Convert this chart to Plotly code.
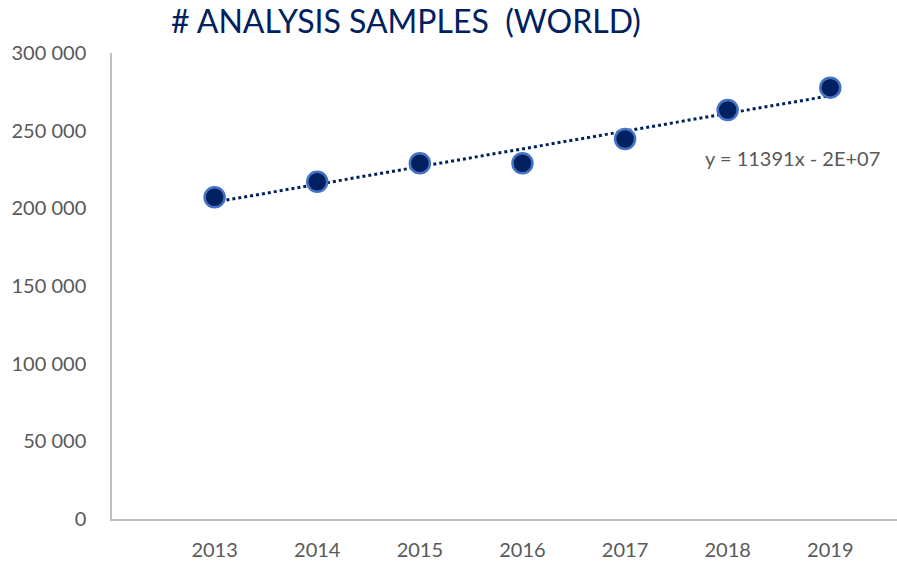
import numpy as np
import plotly.graph_objects as go

years = [2013, 2014, 2015, 2016, 2017, 2018, 2019]
samples = [207100, 217150, 229000, 229000, 244640, 263300, 277700]
y_ticks = [0, 50000, 100000, 150000, 200000, 250000, 300000]
y_tick_labels = ["0", "50 000", "100 000", "150 000", "200 000", "250 000", "300 000"]
title_text = "# ANALYSIS SAMPLES  (WORLD)"
equation_text = "y = 11391x - 2E+07"

x_idx = np.arange(1, len(years) + 1)
slope, intercept = np.polyfit(x_idx, samples, 1)
trend = slope * x_idx + intercept

navy = "#002060"
gray_text = "#595959"
axis_gray = "#BFBFBF"
font_family = "Lato, 'Open Sans', sans-serif"

fig = go.Figure()
fig.add_trace(go.Scatter(
    x=years, y=trend, mode="lines",
    line=dict(color=navy, width=3, dash="dot"),
    hoverinfo="skip", showlegend=False,
))
fig.add_trace(go.Scatter(
    x=years, y=samples, mode="markers",
    marker=dict(size=20, color=navy, line=dict(color="#4472C4", width=2.5)),
    showlegend=False,
))

fig.add_annotation(
    x=0.981, xref="paper", y=0.775, yref="paper", text=equation_text, showarrow=False,
    xanchor="right", yanchor="middle",
    font=dict(family=font_family, size=20, color=gray_text),
)

fig.update_layout(
    width=897, height=562,
    margin=dict(l=112, r=0, t=53, b=43),
    paper_bgcolor="white", plot_bgcolor="white",
    title=dict(
        text=title_text, x=0.4526, xanchor="center",
        y=1 - 22 / 562, yanchor="middle", yref="container",
        font=dict(family=font_family, size=32, color=navy),
    ),
    font=dict(family=font_family, color=gray_text),
    xaxis=dict(
        range=[2012, 2019.65], tickmode="array", tickvals=years,
        ticktext=[str(y) for y in years], showgrid=False, zeroline=False,
        showline=True, linecolor=axis_gray, linewidth=1.5,
        ticks="", ticklabelstandoff=12, automargin=False,
        tickfont=dict(family=font_family, size=20, color=gray_text),
    ),
    yaxis=dict(
        range=[0, 300000], tickmode="array", tickvals=y_ticks,
        ticktext=y_tick_labels, showgrid=False, zeroline=False,
        showline=True, linecolor=axis_gray, linewidth=1.5,
        ticks="", ticklabelstandoff=20, automargin=False,
        tickfont=dict(family=font_family, size=20, color=gray_text),
    ),
)

fig.write_html(
    "out.html",
    config={"displayModeBar": False},
    post_script="document.body.style.margin='0';document.body.style.overflow='hidden';",
)
